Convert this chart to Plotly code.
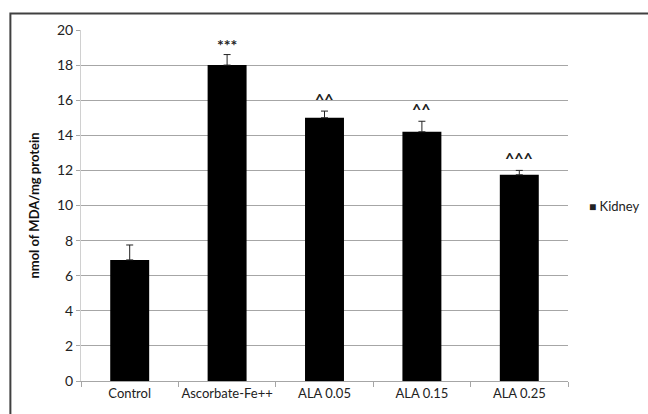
import plotly.graph_objects as go

# MDA levels in kidney tissue per treatment group
groups = ["Control", "Ascorbate-Fe++", "ALA 0.05", "ALA 0.15", "ALA 0.25"]
mda_values = [6.9, 18.0, 15.0, 14.2, 11.75]
mda_errors = [0.85, 0.6, 0.38, 0.6, 0.25]
significance = ["", "***", "^^", "^^", "^^^"]
y_ticks = [0, 2, 4, 6, 8, 10, 12, 14, 16, 18, 20]
series_name = "Kidney"

FONT = "Lato, Carlito, 'Open Sans', sans-serif"

fig = go.Figure()
fig.add_trace(go.Bar(
    x=groups,
    y=mda_values,
    name=series_name,
    showlegend=False,
    marker=dict(color="black", line=dict(color="black", width=0)),
    error_y=dict(type="data", array=mda_errors,
                 arrayminus=[0] * len(mda_errors), symmetric=False,
                 visible=True, color="#222222", thickness=1, width=3.5),
))

# significance markers above each error bar
for g, v, e, s in zip(groups, mda_values, mda_errors, significance):
    if not s:
        continue
    is_star = s.startswith("*")
    fig.add_annotation(
        x=g, y=v + e, text=f"<b>{s}</b>", showarrow=False,
        xref="x", yref="y", yanchor="bottom",
        yshift=-1 if is_star else 1,
        font=dict(family=FONT, size=16, color="#222222"),
    )

# compact legend key to the right of the plot
fig.add_annotation(
    xref="paper", yref="paper", x=1.04, y=0.5,
    xanchor="left", yanchor="middle", showarrow=False,
    text=f"<span style='font-size:12px'>■</span> {series_name}",
    font=dict(family=FONT, size=13, color="#222222"),
)

# outer chart-area frame (left and top edges visible)
fig.add_shape(type="rect", xref="paper", yref="paper",
              x0=-0.145, x1=1.6, y0=-0.6, y1=1.047,
              line=dict(color="#404040", width=2), fillcolor="rgba(0,0,0,0)",
              layer="below")

fig.update_layout(
    width=648, height=414,
    margin=dict(l=81, r=80, t=30, b=33, autoexpand=False),
    paper_bgcolor="white", plot_bgcolor="white",
    font=dict(family=FONT, size=12, color="#222222"),
    bargap=0.6,
    showlegend=False,
    xaxis=dict(
        showgrid=False, showline=True, linecolor="#a6a6a6", linewidth=1,
        ticks="outside", ticklen=5, tickcolor="#a6a6a6",
        tickson="boundaries", tickangle=0, automargin=False,
        tickfont=dict(family=FONT, size=13, color="#222222"),
    ),
    yaxis=dict(
        range=[0, 20], tickvals=y_ticks,
        showgrid=True, gridcolor="#a6a6a6", gridwidth=1,
        showline=True, linecolor="#d0d0d0", linewidth=1,
        ticks="outside", ticklen=4, tickcolor="#a6a6a6",
        tickfont=dict(family=FONT, size=14, color="#222222"),
        zeroline=False, automargin=False,
        title=dict(text="<b>nmol of MDA/mg protein</b>",
                   font=dict(family=FONT, size=13, color="#111111"),
                   standoff=14),
    ),
)

fig.write_html("out.html")
